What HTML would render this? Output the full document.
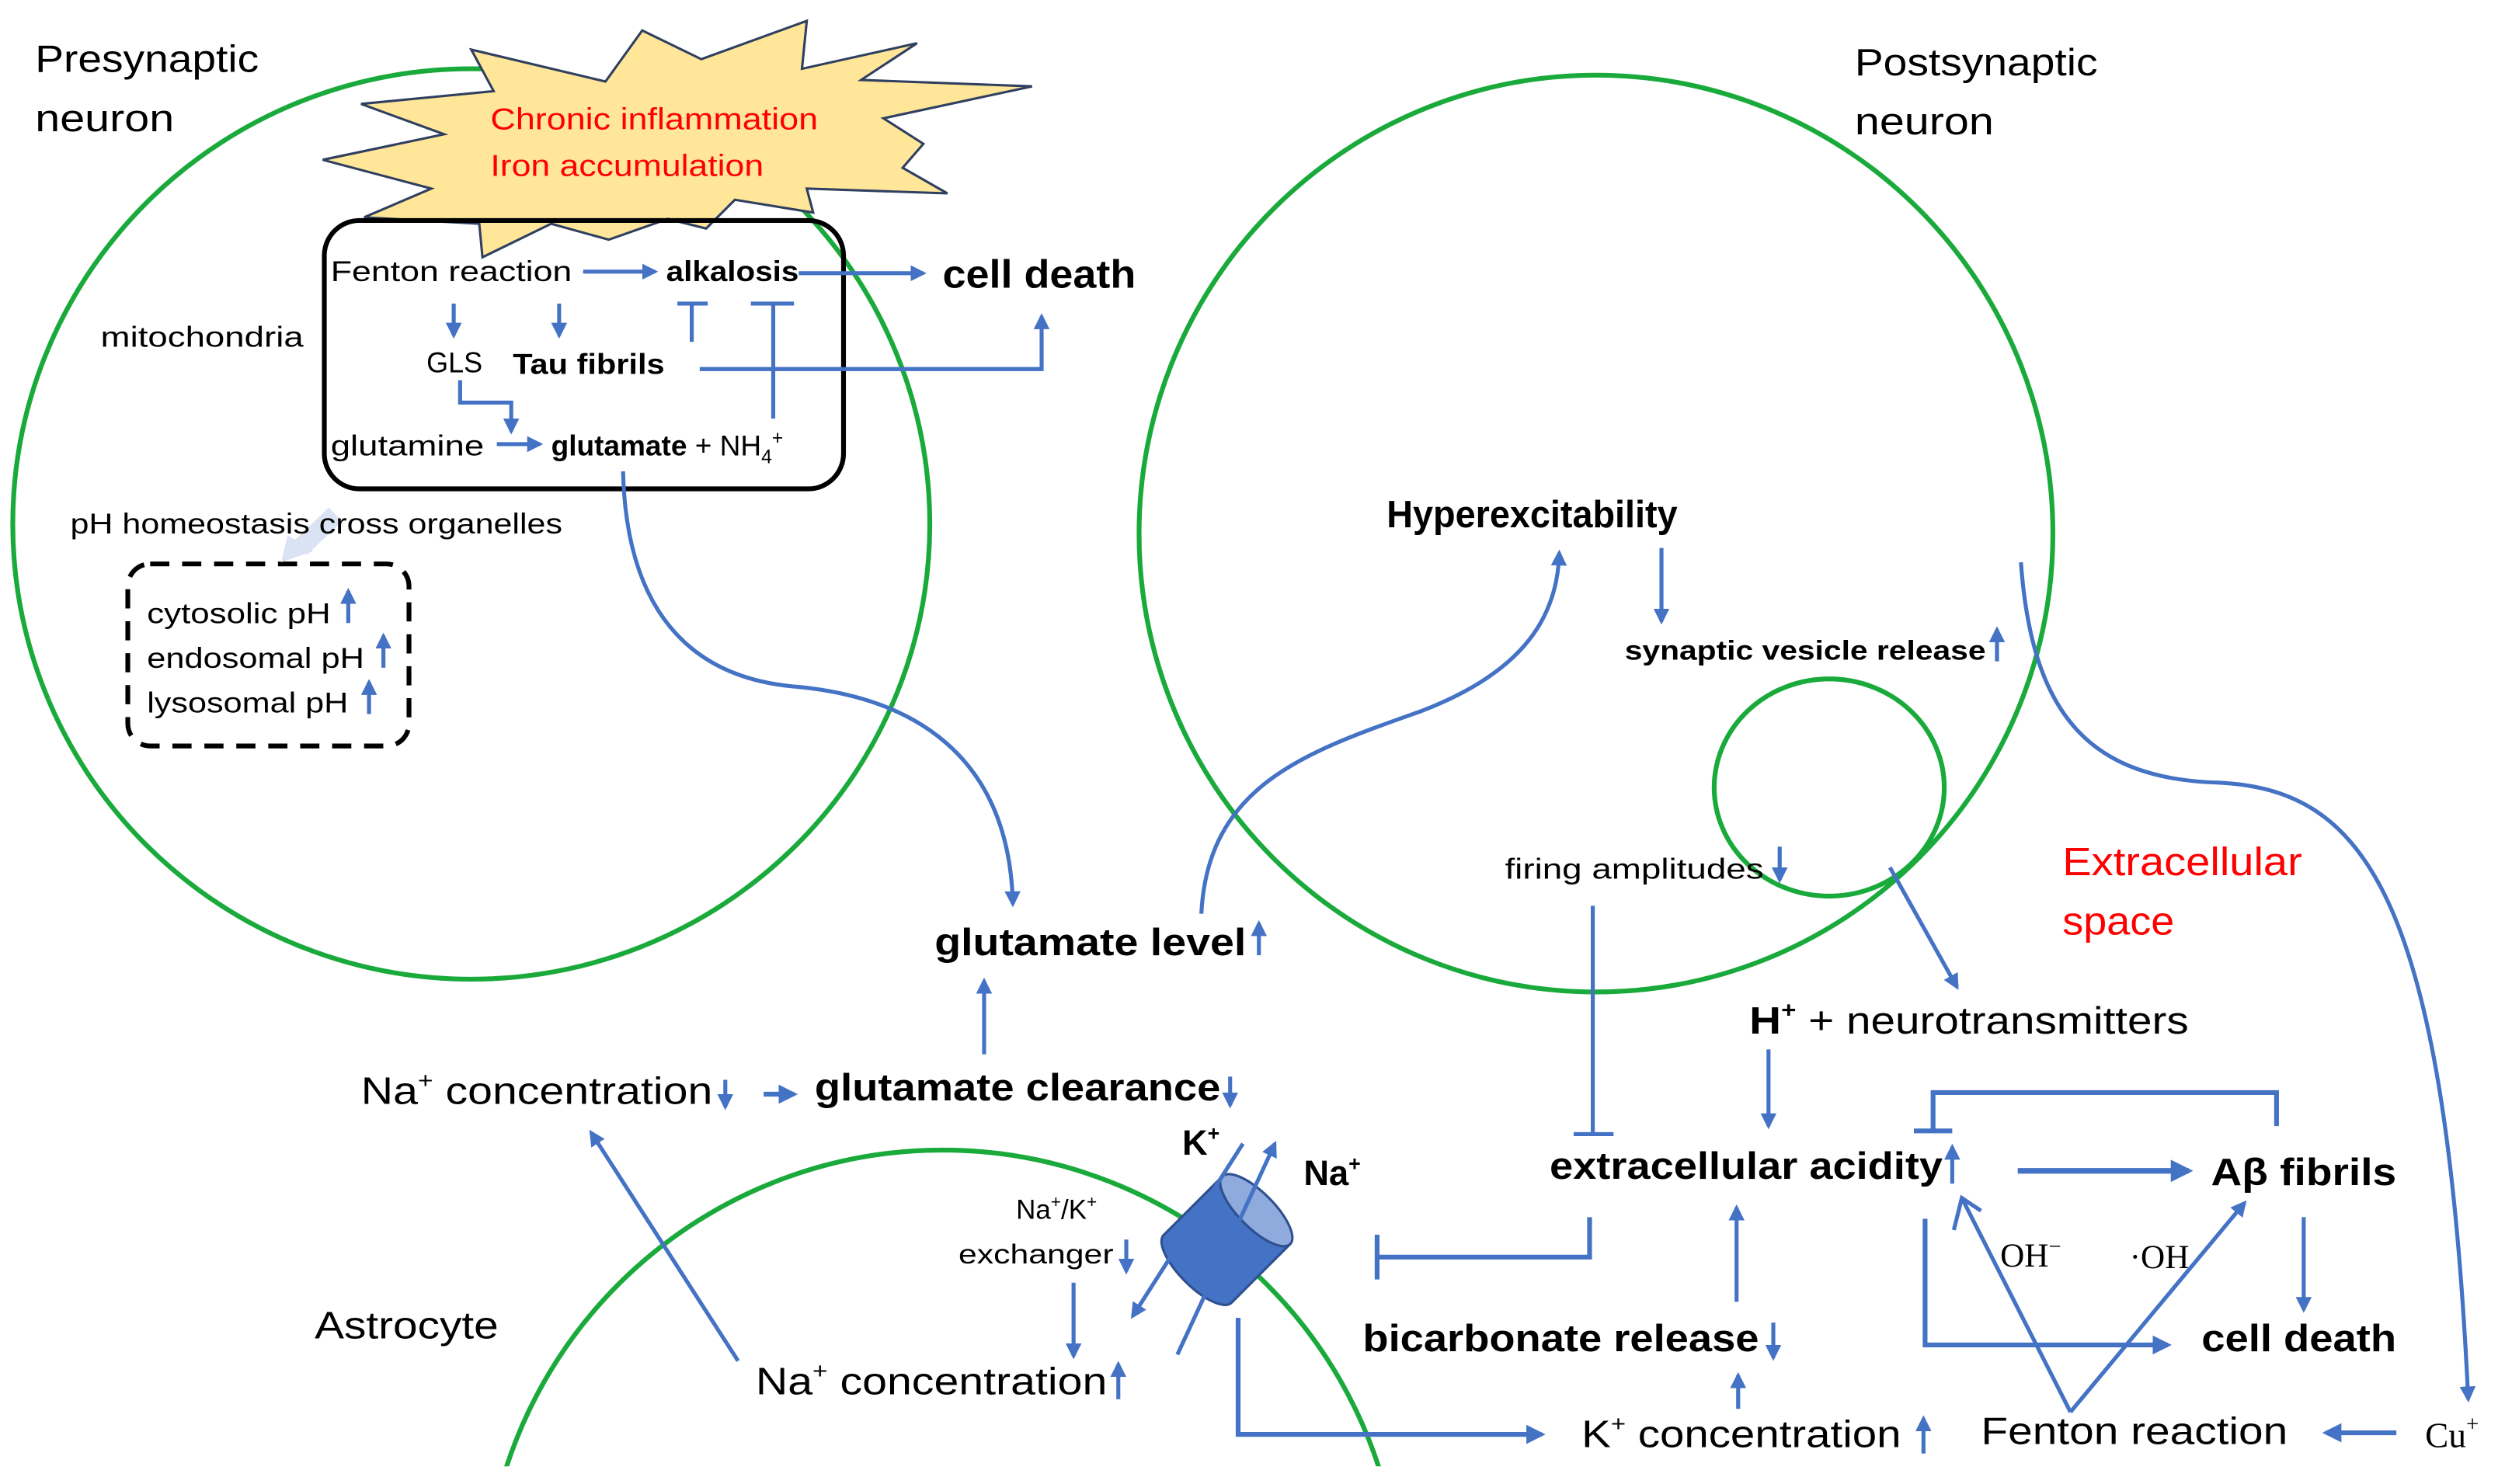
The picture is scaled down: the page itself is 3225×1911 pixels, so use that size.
<!DOCTYPE html>
<html><head><meta charset="utf-8"><style>
html,body{margin:0;padding:0;background:#fff;width:3225px;height:1911px;overflow:hidden;}
svg{display:block;}
text{font-family:"Liberation Sans",sans-serif;fill:#000;}
.b{font-weight:bold;}
</style></head><body>
<svg width="3225" height="1911" viewBox="0 0 1568 929" xmlns="http://www.w3.org/2000/svg">
<defs>
<marker id="a" viewBox="0 0 10 10" refX="8" refY="5" markerWidth="4" markerHeight="4" orient="auto-start-reverse"><path d="M0,0 L10,5 L0,10 z" fill="#4472c4"/></marker>
<clipPath id="cl"><rect x="0" y="0" width="1568" height="918"/></clipPath>
</defs>
<g fill="none" stroke-width="3">
<ellipse cx="295" cy="328" rx="287" ry="285" stroke="#1aaa3c"/>
<ellipse cx="999" cy="334" rx="286" ry="287" stroke="#1aaa3c"/>
<ellipse cx="1145" cy="493" rx="72" ry="68" stroke="#1aaa3c"/>
<circle cx="590" cy="1007" r="287" stroke="#1aaa3c" clip-path="url(#cl)"/>
</g>
<polygon points="295,31 379,51 402,19 439,37 505,13 502,43 574,27 539,50 646,54 553,74 578,90 565,105 593,121 505,118 509,133 460,125 442,143 418,137 381,150 345,140 302,161 300,140 228,136 270,118 202,100 278,84 226,65 309,57" fill="#ffe699" stroke="#2f3f5f" stroke-width="1.5"/>
<rect x="203" y="138" width="325" height="168" rx="22" fill="none" stroke="#000" stroke-width="3"/>
<rect x="80" y="353" width="176" height="114" rx="14" fill="none" stroke="#000" stroke-width="3" stroke-dasharray="12,8"/>
<path d="M210,322 L188,343" stroke="#dae3f3" stroke-width="12"/>
<path d="M176,352 L180,335 L196,345 z" fill="#dae3f3"/>

<text x="307" y="81" font-size="19" style="fill:#f00" textLength="205" lengthAdjust="spacingAndGlyphs">Chronic inflammation</text>
<text x="307" y="110" font-size="19" style="fill:#f00" textLength="171" lengthAdjust="spacingAndGlyphs">Iron accumulation</text>
<text x="22" y="45" font-size="24" textLength="140" lengthAdjust="spacingAndGlyphs">Presynaptic</text>
<text x="22" y="82" font-size="24" textLength="87" lengthAdjust="spacingAndGlyphs">neuron</text>
<text x="1161" y="47" font-size="24" textLength="152" lengthAdjust="spacingAndGlyphs">Postsynaptic</text>
<text x="1161" y="84" font-size="24" textLength="87" lengthAdjust="spacingAndGlyphs">neuron</text>
<text x="63" y="217" font-size="18" textLength="127" lengthAdjust="spacingAndGlyphs">mitochondria</text>
<text x="207" y="176" font-size="18" textLength="151" lengthAdjust="spacingAndGlyphs">Fenton reaction</text>
<text x="417" y="176" font-size="18" class="b" textLength="83" lengthAdjust="spacingAndGlyphs">alkalosis</text>
<text x="590" y="180" font-size="25" class="b" textLength="121" lengthAdjust="spacingAndGlyphs">cell death</text>
<text x="267" y="233" font-size="18" textLength="35" lengthAdjust="spacingAndGlyphs">GLS</text>
<text x="321" y="234" font-size="18" class="b" textLength="95" lengthAdjust="spacingAndGlyphs">Tau fibrils</text>
<text x="207" y="285" font-size="18" textLength="96" lengthAdjust="spacingAndGlyphs">glutamine</text>
<text x="345" y="285" font-size="18"><tspan font-weight="bold">glutamate</tspan> + NH<tspan font-size="12" dy="5">4</tspan><tspan font-size="12" dy="-12">+</tspan></text>
<text x="44" y="334" font-size="18" textLength="308" lengthAdjust="spacingAndGlyphs">pH homeostasis cross organelles</text>
<text x="92" y="390" font-size="18" textLength="115" lengthAdjust="spacingAndGlyphs">cytosolic pH</text>
<text x="92" y="418" font-size="18" textLength="136" lengthAdjust="spacingAndGlyphs">endosomal pH</text>
<text x="92" y="446" font-size="18" textLength="126" lengthAdjust="spacingAndGlyphs">lysosomal pH</text>

<text x="868" y="330" font-size="24" class="b" textLength="182" lengthAdjust="spacingAndGlyphs">Hyperexcitability</text>
<text x="1017" y="413" font-size="17" class="b" textLength="226" lengthAdjust="spacingAndGlyphs">synaptic vesicle release</text>
<text x="942" y="550" font-size="18" textLength="162" lengthAdjust="spacingAndGlyphs">firing amplitudes</text>
<text x="1291" y="548" font-size="25" style="fill:#f00" textLength="150" lengthAdjust="spacingAndGlyphs">Extracellular</text>
<text x="1291" y="585" font-size="25" style="fill:#f00" textLength="70" lengthAdjust="spacingAndGlyphs">space</text>
<text x="585" y="598" font-size="24" class="b" textLength="195" lengthAdjust="spacingAndGlyphs">glutamate level</text>
<text x="1095" y="647" font-size="24" textLength="275" lengthAdjust="spacingAndGlyphs"><tspan font-weight="bold">H<tspan font-size="14" dy="-10">+</tspan></tspan><tspan dy="10"> + neurotransmitters</tspan></text>
<text x="226" y="691" font-size="24" textLength="220" lengthAdjust="spacingAndGlyphs">Na<tspan font-size="14" dy="-10">+</tspan><tspan dy="10"> concentration</tspan></text>
<text x="510" y="689" font-size="24" class="b" textLength="254" lengthAdjust="spacingAndGlyphs">glutamate clearance</text>
<text x="740" y="723" font-size="22" class="b">K<tspan font-size="13" dy="-9">+</tspan></text>
<text x="816" y="742" font-size="22" class="b">Na<tspan font-size="13" dy="-9">+</tspan></text>
<text x="636" y="763" font-size="17">Na<tspan font-size="11" dy="-7">+</tspan><tspan dy="7">/K</tspan><tspan font-size="11" dy="-7">+</tspan></text>
<text x="600" y="791" font-size="17" textLength="97" lengthAdjust="spacingAndGlyphs">exchanger</text>
<text x="970" y="738" font-size="24" class="b" textLength="246" lengthAdjust="spacingAndGlyphs">extracellular acidity</text>
<text x="1384" y="742" font-size="24" class="b" textLength="116" lengthAdjust="spacingAndGlyphs">Aβ fibrils</text>
<text x="1252" y="793" font-size="21" style="font-family:'Liberation Serif',serif">OH<tspan dy="-8" font-size="14">−</tspan></text>
<text x="1333" y="794" font-size="21" style="font-family:'Liberation Serif',serif">·OH</text>
<text x="197" y="838" font-size="24" textLength="115" lengthAdjust="spacingAndGlyphs">Astrocyte</text>
<text x="853" y="846" font-size="24" class="b" textLength="248" lengthAdjust="spacingAndGlyphs">bicarbonate release</text>
<text x="1378" y="846" font-size="24" class="b" textLength="122" lengthAdjust="spacingAndGlyphs">cell death</text>
<text x="473" y="873" font-size="24" textLength="220" lengthAdjust="spacingAndGlyphs">Na<tspan font-size="14" dy="-10">+</tspan><tspan dy="10"> concentration</tspan></text>
<text x="990" y="906" font-size="24" textLength="200" lengthAdjust="spacingAndGlyphs">K<tspan font-size="14" dy="-10">+</tspan><tspan dy="10"> concentration</tspan></text>
<text x="1240" y="904" font-size="24" textLength="192" lengthAdjust="spacingAndGlyphs">Fenton reaction</text>
<text x="1518" y="906" font-size="22" style="font-family:'Liberation Serif',serif">Cu<tspan font-size="14" dy="-10">+</tspan></text>

<g stroke="#4472c4" stroke-width="2.5" fill="none">
<path d="M365,170 L410,170" marker-end="url(#a)"/>
<path d="M500,171 L578,171" marker-end="url(#a)"/>
<path d="M284,190 L284,210" marker-end="url(#a)"/>
<path d="M350,190 L350,210" marker-end="url(#a)"/>
<path d="M433,214 L433,190 M424,190 L443,190"/>
<path d="M484,262 L484,190 M470,190 L497,190"/>
<path d="M438,231 L652,231 L652,198" marker-end="url(#a)"/>
<path d="M288,238 L288,252 L320,252 L320,270" marker-end="url(#a)"/>
<path d="M311,278 L338,278" marker-end="url(#a)"/>
<path d="M218,390 L218,370" marker-end="url(#a)"/>
<path d="M240,418 L240,398" marker-end="url(#a)"/>
<path d="M231,447 L231,427" marker-end="url(#a)"/>
<path d="M390,295 C392,380 430,425 500,430 C580,438 632,480 634,566" marker-end="url(#a)"/>
<path d="M752,572 C756,490 820,470 890,445 C955,420 975,385 976,346" marker-end="url(#a)"/>
<path d="M788,598 L788,578" marker-end="url(#a)"/>
<path d="M1040,343 L1040,389" marker-end="url(#a)"/>
<path d="M1250,414 L1250,394" marker-end="url(#a)"/>
<path d="M1114,530 L1114,551" marker-end="url(#a)"/>
<path d="M997,567 L997,710 M985,710 L1010,710"/>
<path d="M1183,543 L1225,618" marker-end="url(#a)"/>
<path d="M1107,657 L1107,705" marker-end="url(#a)"/>
<path d="M1222,741 L1222,718" marker-end="url(#a)"/>
<path d="M1263,733 L1370,733" marker-end="url(#a)" stroke-width="3.5"/>
<path d="M1425,705 L1425,684 L1210,684 L1210,708 M1198,708 L1222,708" stroke-width="3"/>
<path d="M1442,762 L1442,820" marker-end="url(#a)"/>
<path d="M1205,763 L1205,842 L1357,842" marker-end="url(#a)" stroke-width="3"/>
<path d="M1296,884 L1228,750 M1223,770 L1228,750 L1240,758"/>
<path d="M1296,884 L1405,753" marker-end="url(#a)"/>
<path d="M1500,897 L1456,897" marker-end="url(#a)" stroke-width="3"/>
<path d="M1265,352 C1272,450 1310,488 1390,490 C1480,495 1530,560 1545,876" marker-end="url(#a)"/>
<path d="M1110,828 L1110,850" marker-end="url(#a)"/>
<path d="M1087,815 L1087,756" marker-end="url(#a)"/>
<path d="M1088,882 L1088,861" marker-end="url(#a)"/>
<path d="M1204,910 L1204,888" marker-end="url(#a)"/>
<path d="M775,825 L775,898 L965,898" marker-end="url(#a)" stroke-width="3"/>
<path d="M995,762 L995,787 L862,787 M862,773 L862,801" stroke-width="3"/>
<path d="M454,676 L454,693" marker-end="url(#a)"/>
<path d="M478,685 L497,685" marker-end="url(#a)" stroke-width="3"/>
<path d="M770,674 L770,692" marker-end="url(#a)"/>
<path d="M616,660 L616,614" marker-end="url(#a)"/>
<path d="M462,852 L370,709" marker-end="url(#a)"/>
<path d="M700,876 L700,854" marker-end="url(#a)"/>
<path d="M705,776 L705,796" marker-end="url(#a)"/>
<path d="M672,803 L672,849" marker-end="url(#a)"/>
</g>
<g transform="translate(768,776) rotate(45)">
<path d="M-30,-26 L-30,26 A30,11 0 0 0 30,26 L30,-26 z" fill="#4472c4" stroke="#2f4f8f" stroke-width="1.5"/>
<ellipse cx="0" cy="-26" rx="30" ry="11" fill="#8faadc" stroke="#2f4f8f" stroke-width="1.5"/>
</g>
<g stroke="#4472c4" stroke-width="2.5" fill="none">
<path d="M778,716 L709,824" marker-end="url(#a)"/>
<path d="M737,848 L798,716" marker-end="url(#a)"/>
</g>
</svg>
</body></html>
